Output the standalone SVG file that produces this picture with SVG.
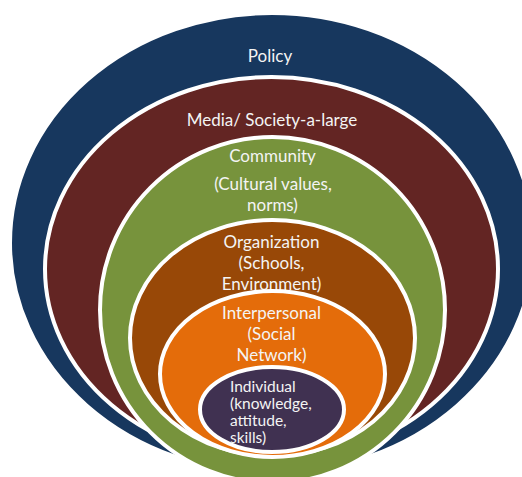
<svg xmlns="http://www.w3.org/2000/svg" width="522" height="477" viewBox="0 0 522 477">
<style>
  .ring { stroke: #ffffff; stroke-width: 4; }
  .lbl { font-family: Lato, "Liberation Sans", sans-serif; fill: #f4f4f4; text-anchor: middle; font-size: 17px; }
  .lbl-s { font-family: Lato, "Liberation Sans", sans-serif; fill: #f4f4f4; font-size: 15.5px; }
</style>
<rect x="0" y="0" width="522" height="477" fill="#ffffff"/>
<g id="policy">
  <ellipse class="ring" cx="272" cy="243" rx="262" ry="230" fill="#17375e"/>
  <text class="lbl" x="270" y="62">Policy</text>
</g>
<g id="media">
  <ellipse class="ring" cx="271.5" cy="269" rx="226.5" ry="192" fill="#632523"/>
  <text class="lbl" x="272" y="126">Media/ Society-a-large</text>
</g>
<g id="community">
  <ellipse class="ring" cx="272.5" cy="310" rx="172.5" ry="173" fill="#77933c"/>
  <text class="lbl" x="272.5" y="162">Community</text>
  <text class="lbl" x="273" y="190">(Cultural values,</text>
  <text class="lbl" x="272.5" y="211">norms)</text>
</g>
<g id="organization">
  <ellipse class="ring" cx="272.5" cy="338" rx="142.5" ry="118" fill="#984807"/>
  <text class="lbl" x="271.5" y="248">Organization</text>
  <text class="lbl" x="271.5" y="269">(Schools,</text>
  <text class="lbl" x="271.5" y="290">Environment)</text>
</g>
<g id="interpersonal">
  <ellipse class="ring" cx="272.5" cy="374" rx="112.5" ry="83" fill="#e46c0a"/>
  <text class="lbl" x="271.5" y="319">Interpersonal</text>
  <text class="lbl" x="271.5" y="340">(Social</text>
  <text class="lbl" x="271.5" y="361">Network)</text>
</g>
<g id="individual">
  <ellipse class="ring" cx="272" cy="409.5" rx="72" ry="42.5" fill="#403151"/>
  <text class="lbl-s" x="230" y="392">Individual</text>
  <text class="lbl-s" x="230" y="409">(knowledge,</text>
  <text class="lbl-s" x="230" y="426">attitude,</text>
  <text class="lbl-s" x="230" y="443">skills)</text>
</g>
<g id="connectors"></g>
</svg>
